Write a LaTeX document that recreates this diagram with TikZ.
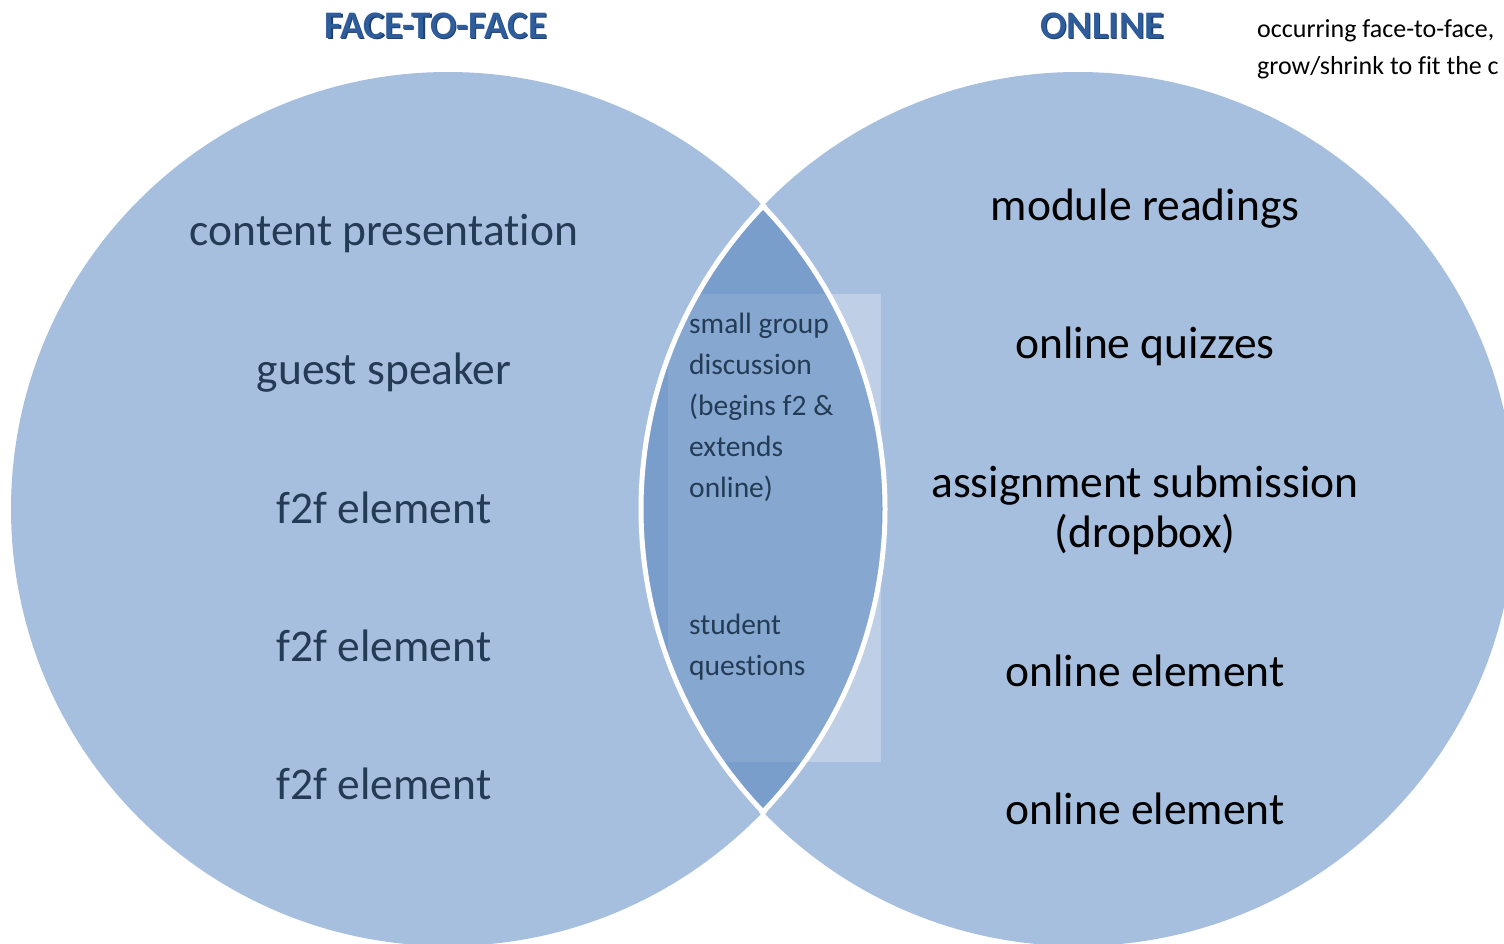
\documentclass[tikz,border=0pt]{standalone}
\usepackage{fontspec}
\setmainfont{Carlito}[Ligatures=NoCommon]
\definecolor{circfill}{HTML}{A7BFDE}
\definecolor{lensfill}{HTML}{7A9ECB}
\definecolor{rectout}{HTML}{BFD0E6}
\definecolor{rectin}{HTML}{86A8D0}
\definecolor{lefttext}{HTML}{243B55}
\definecolor{headblue}{HTML}{2F5C9A}
\definecolor{headdark}{HTML}{1F3F6E}
\begin{document}
\begin{tikzpicture}[x=1pt,y=-1pt,
  biglabel/.style={font=\fontsize{45.5}{50}\selectfont, anchor=base, inner sep=0pt},
  leftlabel/.style={biglabel, text=lefttext},
  rightlabel/.style={biglabel, text=black},
  lenslabel/.style={font=\fontsize{29.5}{41}\selectfont, anchor=base west, inner sep=0pt, text=lefttext, align=left},
  header/.style={font=\fontsize{39}{42}\selectfont\bfseries, anchor=base, inner sep=0pt, text=headblue},
  headshadow/.style={font=\fontsize{39}{42}\selectfont\bfseries, anchor=base, inner sep=0pt, text=headdark},
  note/.style={font=\fontsize{26}{37}\selectfont, anchor=base west, inner sep=0pt, text=black}]
\useasboundingbox (0,0) rectangle (1504,943);
\clip (0,0) rectangle (1504,943);
% circles
\fill[circfill] (448,509) circle (437);
\fill[circfill] (1078,509) circle (437);
% text box part outside the lens (inside right circle)
\begin{scope}
  \clip (1078,509) circle (437);
  \fill[rectout] (668,294) rectangle (881,762);
\end{scope}
% lens
\begin{scope}
  \clip (448,509) circle (437);
  \fill[lensfill] (1078,509) circle (437);
  \clip (1078,509) circle (437);
  \fill[rectin] (668,294) rectangle (881,762);
\end{scope}
% white lens outline
\begin{scope}
  \clip (448,509) circle (440);
  \draw[white, line width=5pt] (1078,509) circle (437);
\end{scope}
\begin{scope}
  \clip (1078,509) circle (440);
  \draw[white, line width=5pt] (448,509) circle (437);
\end{scope}
% headers
\node[headshadow] at (437.2,39.4) {FACE-TO-FACE};
\node[header] (hf2f) at (436,38.2) {FACE-TO-FACE};
\node[headshadow] at (1103.2,39.4) {ONLINE};
\node[header] (honline) at (1102,38.2) {ONLINE};
% note
\node[note] (note1) at (1257,37) {occurring face-to-face,};
\node[note] (note2) at (1257,74) {grow/shrink to fit the c};
% left labels
\node[leftlabel] (l1) at (384,245) {content presentation};
\node[leftlabel] (l2) at (384,384) {guest speaker};
\node[leftlabel] (l3) at (384,523) {f2f element};
\node[leftlabel] (l4) at (384,661) {f2f element};
\node[leftlabel] (l5) at (384,799.5) {f2f element};
% right labels
\node[rightlabel] (r1) at (1145,220) {module readings};
\node[rightlabel] (r2) at (1145,358) {online quizzes};
\node[rightlabel] (r3) at (1145,497.5) {assignment submission};
\node[rightlabel] (r3b) at (1145,547) {(dropbox)};
\node[rightlabel] (r4) at (1145,686) {online element};
\node[rightlabel] (r5) at (1145,824) {online element};
% lens labels
\node[lenslabel] (c1) at (689,333) {small group};
\node[lenslabel] (c2) at (689,374) {discussion};
\node[lenslabel] (c3) at (689,415) {(begins f2 \&};
\node[lenslabel] (c4) at (689,456) {extends};
\node[lenslabel] (c5) at (689,497) {online)};
\node[lenslabel] (c6) at (689,634) {student};
\node[lenslabel] (c7) at (689,675) {questions};
\end{tikzpicture}
\end{document}
